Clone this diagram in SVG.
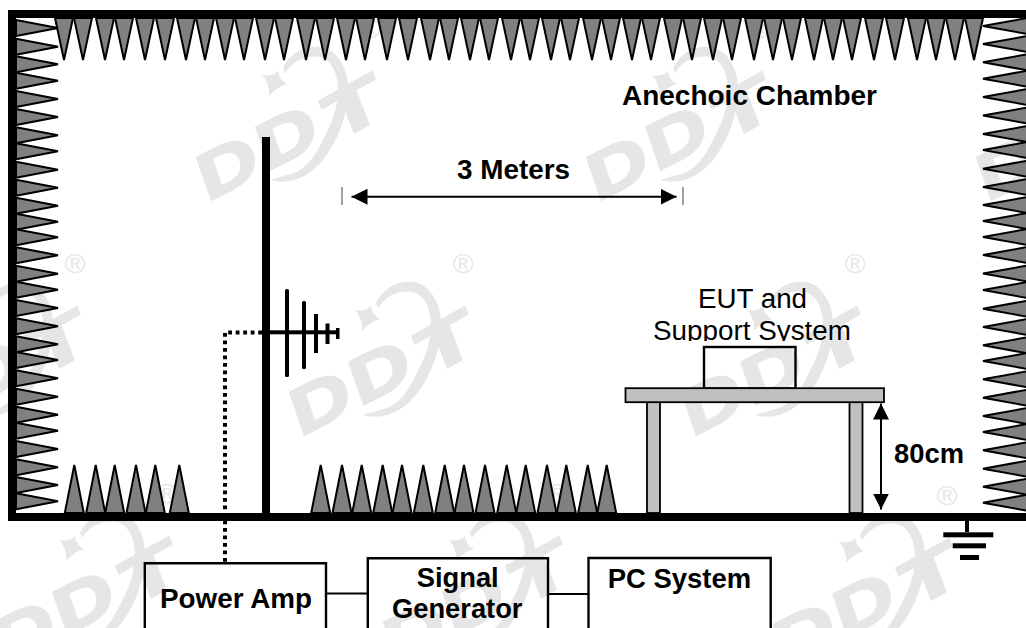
<svg xmlns="http://www.w3.org/2000/svg" width="1026" height="628" viewBox="0 0 1026 628">
<style>
.tooth{fill:#808080;stroke:#000;stroke-width:2;stroke-linejoin:miter;stroke-miterlimit:3}
.t{font-family:"Liberation Sans",Arial,sans-serif;fill:#000;font-size:27px}
.b{font-weight:bold}
.wm{fill:#e6e6e6}
.wt{font-family:"Liberation Sans",Arial,sans-serif;fill:#e6e6e6}
.ws{stroke:#e6e6e6;stroke-width:2.5}
.box{fill:none;stroke:#000;stroke-width:2.4}
.leg{fill:#c0c0c0;stroke:#000;stroke-width:1.8}
.wire{fill:none;stroke:#000;stroke-width:2}
.dot{fill:none;stroke:#000;stroke-width:4;stroke-dasharray:3.8 3.7}
.arrow{fill:none;stroke:#000;stroke-width:2;marker-start:url(#ah);marker-end:url(#ah)}
.tick{stroke:#444;stroke-width:1}
</style>
<defs>
<marker id="ah" viewBox="0 0 16 16" refX="16" refY="8" markerWidth="16" markerHeight="16" markerUnits="userSpaceOnUse" orient="auto-start-reverse"><path d="M0,0L16,8L0,16Z" fill="#000"/></marker>
<clipPath id="eutclip"><rect x="640" y="318" width="225" height="23"/></clipPath>
<polygon id="tt" class="tooth" points="-9,18 0,60 9,18"/>
<polygon id="tl" class="tooth" points="16,-8 58,0 16,8"/>
<polygon id="tr" class="tooth" points="1030,-8.5 983,0 1030,8.5"/>
<polygon id="tb" class="tooth" points="-9.5,513 0,465 9.5,513"/>
<g id="logo">
<text class="wt ws" font-size="64" font-weight="bold" letter-spacing="3" transform="translate(-68,119) rotate(-27) skewX(-8) scale(1.35,1)">DD</text>
<text class="wt ws" font-size="64" font-weight="bold" transform="translate(60,60) rotate(-29) skewX(-8) scale(1.55,1)">T</text>
<path class="wm" d="M-13,-8Q-3,-6 3,-12Q4,-3 12,1Q3,3 -6,13Q-5,0 -13,-8Z"/>
<path class="wm" d="M8,-15C15,-30 30,-38 45,-36C62,-34 73,-14 73,4C73,30 65,55 48,77C35,93 15,103 -5,97L12,92C25,90 35,80 42,68C52,50 63,30 63,7C63,-8 58,-22 45,-26C30,-28 18,-22 10,-10Z"/>
<text class="wt" x="95" y="-45" font-size="28" text-anchor="middle">®</text>
</g>
</defs>
<rect width="1026" height="628" fill="#fff"/>
<g id="watermark">
<use href="#logo" x="275" y="83"/><use href="#logo" x="665" y="83"/><use href="#logo" x="1055" y="83"/>
<use href="#logo" x="-20" y="318"/><use href="#logo" x="368" y="318"/><use href="#logo" x="760" y="318"/>
<use href="#logo" x="72" y="548"/><use href="#logo" x="462" y="548"/><use href="#logo" x="852" y="550"/>
</g>
<g id="chamber">
<g id="absorbers-top">
<use href="#tt" x="64"/><use href="#tt" x="83"/><use href="#tt" x="105"/><use href="#tt" x="124"/><use href="#tt" x="145"/><use href="#tt" x="165"/><use href="#tt" x="186"/><use href="#tt" x="205"/><use href="#tt" x="225"/><use href="#tt" x="244"/><use href="#tt" x="265"/><use href="#tt" x="284"/><use href="#tt" x="306"/><use href="#tt" x="325"/><use href="#tt" x="346"/><use href="#tt" x="365"/><use href="#tt" x="387"/><use href="#tt" x="408"/><use href="#tt" x="430"/><use href="#tt" x="449"/><use href="#tt" x="470"/><use href="#tt" x="489"/><use href="#tt" x="511"/><use href="#tt" x="530"/><use href="#tt" x="551"/><use href="#tt" x="570"/><use href="#tt" x="592"/><use href="#tt" x="611"/><use href="#tt" x="632"/><use href="#tt" x="651"/><use href="#tt" x="673"/><use href="#tt" x="692"/><use href="#tt" x="713"/><use href="#tt" x="732"/><use href="#tt" x="754"/><use href="#tt" x="773"/><use href="#tt" x="792"/><use href="#tt" x="814"/><use href="#tt" x="833"/><use href="#tt" x="852"/><use href="#tt" x="874"/><use href="#tt" x="895"/><use href="#tt" x="917"/><use href="#tt" x="936"/><use href="#tt" x="955"/><use href="#tt" x="974"/>
</g>
<g id="absorbers-left">
<use href="#tl" y="28"/><use href="#tl" y="46.7"/><use href="#tl" y="64.3"/><use href="#tl" y="80.7"/><use href="#tl" y="99"/><use href="#tl" y="117"/><use href="#tl" y="135.3"/><use href="#tl" y="151.3"/><use href="#tl" y="169.7"/><use href="#tl" y="187.7"/><use href="#tl" y="205.7"/><use href="#tl" y="221.7"/><use href="#tl" y="237.3"/><use href="#tl" y="255.3"/><use href="#tl" y="273.7"/><use href="#tl" y="289.7"/><use href="#tl" y="308"/><use href="#tl" y="326.3"/><use href="#tl" y="344.3"/><use href="#tl" y="360"/><use href="#tl" y="378.3"/><use href="#tl" y="396.7"/><use href="#tl" y="414.7"/><use href="#tl" y="430.7"/><use href="#tl" y="449"/><use href="#tl" y="467.3"/><use href="#tl" y="485"/><use href="#tl" y="501.3"/>
</g>
<g id="absorbers-right">
<use href="#tr" y="26"/><use href="#tr" y="44"/><use href="#tr" y="62.3"/><use href="#tr" y="78.7"/><use href="#tr" y="97"/><use href="#tr" y="115.5"/><use href="#tr" y="134"/><use href="#tr" y="150"/><use href="#tr" y="168.7"/><use href="#tr" y="187"/><use href="#tr" y="205"/><use href="#tr" y="221"/><use href="#tr" y="237"/><use href="#tr" y="255"/><use href="#tr" y="273.5"/><use href="#tr" y="290"/><use href="#tr" y="308.7"/><use href="#tr" y="327"/><use href="#tr" y="345.3"/><use href="#tr" y="361"/><use href="#tr" y="379.3"/><use href="#tr" y="397.7"/><use href="#tr" y="416"/><use href="#tr" y="432"/><use href="#tr" y="450.3"/><use href="#tr" y="468.7"/><use href="#tr" y="486.7"/><use href="#tr" y="502.7"/>
</g>
<g id="absorbers-floor">
<use href="#tb" x="74.3"/><use href="#tb" x="95.7"/><use href="#tb" x="114.7"/><use href="#tb" x="136"/><use href="#tb" x="155.3"/><use href="#tb" x="179.3"/>
<use href="#tb" x="320.7"/><use href="#tb" x="342"/><use href="#tb" x="361.7"/><use href="#tb" x="382.7"/><use href="#tb" x="402"/><use href="#tb" x="423.3"/><use href="#tb" x="444.7"/><use href="#tb" x="464"/><use href="#tb" x="485"/><use href="#tb" x="506.7"/><use href="#tb" x="525.7"/><use href="#tb" x="547"/><use href="#tb" x="566.3"/><use href="#tb" x="587.7"/><use href="#tb" x="606.7"/>
</g>
<path d="M1026,10H8V521H1026V513H16V18H1026Z" fill="#000"/>
<text class="t b" x="622" y="105" textLength="255" lengthAdjust="spacingAndGlyphs">Anechoic Chamber</text>
</g>
<g id="connectors">
<path class="dot" d="M262,332.5H225V565"/>
<path class="wire" d="M326,593.5H368"/>
<path class="wire" d="M548,594H588"/>
<line class="arrow" x1="351.5" y1="196.7" x2="676.5" y2="196.7"/>
<line class="tick" x1="342" y1="187" x2="342" y2="205"/>
<line class="tick" x1="683" y1="187" x2="683" y2="205"/>
<text class="t b" x="457" y="179" textLength="113" lengthAdjust="spacingAndGlyphs">3 Meters</text>
<line class="arrow" x1="881" y1="403.5" x2="881" y2="509.5"/>
<text class="t b" x="894" y="462.5" textLength="70" lengthAdjust="spacingAndGlyphs">80cm</text>
</g>
<g id="antenna" fill="#000">
<rect x="262" y="137" width="8" height="377"/>
<rect x="270" y="330.3" width="68" height="4"/>
<rect x="285" y="289" width="4" height="88" rx="1.5"/>
<rect x="302" y="301" width="4" height="68" rx="1.5"/>
<rect x="314" y="314" width="4" height="39"/>
<rect x="325.5" y="323.5" width="4" height="20.5"/>
<rect x="336" y="328" width="3.5" height="11"/>
</g>
<g id="eut">
<rect class="box" x="704" y="347" width="91.5" height="41.5"/>
<text class="t" x="698" y="308" textLength="109" lengthAdjust="spacingAndGlyphs">EUT and</text>
<text class="t" x="653" y="340" textLength="198" lengthAdjust="spacingAndGlyphs" clip-path="url(#eutclip)">Support System</text>
</g>
<g id="table">
<rect class="leg" x="647" y="402" width="13" height="111"/>
<rect class="leg" x="849.5" y="402" width="13" height="111"/>
<rect class="leg" x="625.5" y="388.2" width="258.5" height="14"/>
</g>
<g id="ground" fill="#000">
<rect x="965" y="521" width="4" height="11"/>
<rect x="943.3" y="532.3" width="50" height="5"/>
<rect x="952.7" y="543.3" width="33.3" height="5"/>
<rect x="960" y="555" width="19" height="5"/>
</g>
<g id="power-amp">
<path class="box" d="M144.8,630V563.3H326V630"/>
<text class="t b" x="160" y="608" textLength="152" lengthAdjust="spacingAndGlyphs">Power Amp</text>
</g>
<g id="signal-generator">
<path class="box" d="M367.8,630V558.3H548V630"/>
<text class="t b" x="416.7" y="587.3" textLength="82" lengthAdjust="spacingAndGlyphs">Signal</text>
<text class="t b" x="392" y="618" textLength="130.5" lengthAdjust="spacingAndGlyphs">Generator</text>
</g>
<g id="pc-system">
<path class="box" d="M588.5,630V558H770.7V630"/>
<text class="t b" x="607.7" y="587.7" textLength="143.5" lengthAdjust="spacingAndGlyphs">PC System</text>
</g>
</svg>
